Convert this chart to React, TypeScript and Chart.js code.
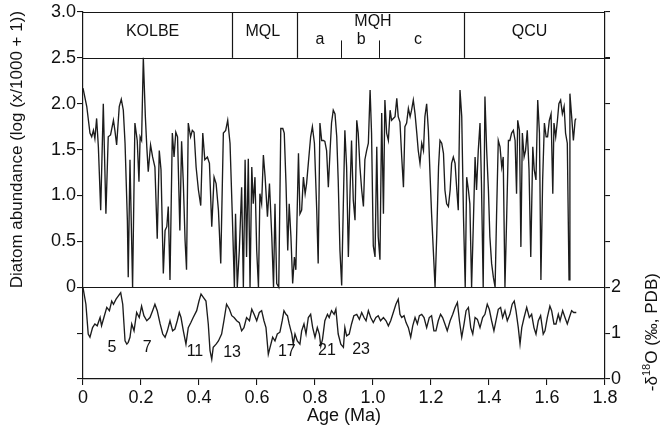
import React, { useEffect, useRef } from "react";
import { Chart, registerables } from "chart.js";

Chart.register(...registerables);

const FONT = '"Liberation Sans", Arial, Helvetica, sans-serif';
const INK = "#161616";

// Diatom abundance, [age (Ma), log(x/1000 + 1)]
const diatomAbundance: [number, number][] = [
  [0.000,2.17],[0.013,1.97],[0.024,1.68],[0.030,1.64],[0.036,1.71],[0.041,1.62],[0.047,1.84],[0.053,1.53],[0.061,0.84],[0.070,2.00],
  [0.079,0.80],[0.087,1.64],[0.095,1.66],[0.105,1.82],[0.110,1.71],[0.116,1.55],[0.125,1.97],[0.132,2.05],[0.139,1.93],[0.145,1.57],
  [0.153,0.73],[0.156,0.11],[0.162,1.39],[0.171,0.00],[0.179,1.79],[0.187,1.60],[0.193,1.15],[0.197,1.64],[0.202,1.60],[0.208,2.50],
  [0.215,1.86],[0.220,1.53],[0.225,1.26],[0.233,1.55],[0.240,1.42],[0.248,1.31],[0.256,0.53],[0.263,1.49],[0.269,1.28],[0.277,0.15],
  [0.283,0.62],[0.289,0.66],[0.294,0.88],[0.300,0.08],[0.308,1.68],[0.314,1.42],[0.320,1.69],[0.326,1.64],[0.334,0.62],[0.340,1.59],
  [0.346,1.13],[0.352,0.51],[0.357,0.19],[0.363,1.79],[0.371,1.64],[0.377,1.71],[0.383,1.69],[0.390,1.31],[0.398,1.06],[0.406,0.89],
  [0.413,1.68],[0.420,1.39],[0.429,1.42],[0.436,1.35],[0.444,0.66],[0.452,1.20],[0.459,1.13],[0.467,0.84],[0.475,0.26],[0.484,1.68],
  [0.492,1.71],[0.499,1.82],[0.507,1.57],[0.515,0.77],[0.522,0.00],[0.526,0.80],[0.532,0.00],[0.539,0.40],[0.547,1.09],[0.553,0.00],
  [0.559,1.39],[0.564,0.33],[0.570,1.40],[0.576,0.00],[0.582,1.31],[0.587,0.91],[0.593,1.20],[0.599,0.40],[0.605,0.00],[0.610,1.02],
  [0.616,0.91],[0.622,1.44],[0.628,1.20],[0.636,0.77],[0.643,1.13],[0.651,0.55],[0.657,0.00],[0.662,0.91],[0.668,0.04],[0.675,0.00],
  [0.682,1.73],[0.689,1.73],[0.694,1.68],[0.700,1.13],[0.706,0.40],[0.711,0.91],[0.717,0.55],[0.723,0.04],[0.729,0.33],[0.734,0.19],
  [0.743,1.46],[0.748,0.80],[0.754,0.84],[0.760,1.20],[0.766,1.02],[0.771,1.13],[0.777,1.35],[0.785,1.64],[0.791,1.75],[0.798,1.57],
  [0.806,0.84],[0.811,0.26],[0.817,1.79],[0.823,1.60],[0.829,1.60],[0.834,1.59],[0.840,1.49],[0.846,1.09],[0.852,1.49],[0.857,1.79],
  [0.863,1.93],[0.869,1.89],[0.875,1.64],[0.880,1.17],[0.886,0.40],[0.892,0.02],[0.898,0.95],[0.903,1.71],[0.909,1.31],[0.915,0.33],
  [0.921,1.06],[0.926,1.60],[0.932,0.95],[0.938,0.73],[0.944,1.82],[0.949,1.68],[0.955,1.31],[0.961,1.06],[0.967,0.88],[0.972,1.39],
  [0.978,1.49],[0.984,1.57],[0.990,2.15],[0.995,1.68],[1.001,0.45],[1.007,0.33],[1.013,1.53],[1.018,0.55],[1.024,0.30],[1.030,1.90],
  [1.036,0.80],[1.041,2.04],[1.047,1.68],[1.053,1.60],[1.059,1.93],[1.064,1.82],[1.070,1.84],[1.076,1.86],[1.082,2.06],[1.087,1.86],
  [1.093,1.80],[1.099,1.42],[1.105,1.09],[1.110,1.75],[1.116,1.79],[1.122,1.95],[1.128,1.86],[1.133,1.93],[1.139,2.04],[1.145,1.89],
  [1.151,1.68],[1.156,1.49],[1.162,1.35],[1.168,1.57],[1.174,1.49],[1.179,1.86],[1.185,2.00],[1.191,1.71],[1.197,1.20],[1.202,0.80],
  [1.208,0.40],[1.214,0.00],[1.220,0.59],[1.226,1.31],[1.231,1.60],[1.237,1.57],[1.243,1.46],[1.248,1.06],[1.254,0.91],[1.260,0.88],
  [1.266,1.06],[1.271,1.35],[1.277,1.42],[1.283,1.35],[1.289,1.06],[1.294,0.84],[1.300,2.15],[1.306,1.86],[1.312,0.77],[1.318,0.00],
  [1.323,1.20],[1.329,1.06],[1.334,0.91],[1.340,0.00],[1.346,0.69],[1.352,1.42],[1.357,1.06],[1.363,1.49],[1.369,1.79],[1.374,1.13],
  [1.380,0.00],[1.386,2.08],[1.392,1.49],[1.398,1.06],[1.403,0.55],[1.409,0.26],[1.415,0.11],[1.421,0.00],[1.426,0.77],[1.432,1.60],
  [1.438,1.53],[1.444,1.31],[1.449,1.42],[1.455,0.00],[1.461,0.77],[1.467,1.60],[1.472,1.60],[1.478,1.68],[1.484,1.71],[1.490,1.60],
  [1.495,1.02],[1.499,1.82],[1.505,1.71],[1.510,0.44],[1.515,1.68],[1.521,1.42],[1.526,1.49],[1.532,1.71],[1.538,1.28],[1.544,0.33],
  [1.551,1.53],[1.556,1.28],[1.562,1.17],[1.568,2.04],[1.574,1.68],[1.579,0.08],[1.585,1.17],[1.591,1.79],[1.597,1.64],[1.602,1.64],
  [1.608,1.82],[1.614,1.89],[1.620,1.02],[1.624,1.79],[1.630,1.64],[1.636,1.82],[1.641,2.00],[1.647,2.04],[1.653,1.89],[1.659,1.97],
  [1.664,1.68],[1.670,1.57],[1.676,0.08],[1.679,2.11],[1.685,1.86],[1.691,1.60],[1.697,1.82],[1.700,1.84],
];

// -δ18O (‰, PDB), [age (Ma), value]
const oxygenIsotope: [number, number][] = [
  [0.000,1.99],[0.010,1.63],[0.018,0.98],[0.024,0.91],[0.033,1.12],[0.041,1.20],[0.049,1.16],[0.059,1.34],[0.064,1.16],[0.072,1.34],
  [0.082,1.56],[0.091,1.49],[0.099,1.70],[0.105,1.63],[0.114,1.74],[0.122,1.81],[0.130,1.88],[0.137,1.63],[0.145,0.83],[0.151,0.76],
  [0.156,0.80],[0.162,0.91],[0.168,1.20],[0.176,1.05],[0.185,1.45],[0.194,1.34],[0.202,1.59],[0.210,1.38],[0.220,1.27],[0.231,1.34],
  [0.240,1.49],[0.248,1.63],[0.256,1.49],[0.266,1.20],[0.275,0.98],[0.283,0.91],[0.291,1.05],[0.300,1.27],[0.309,1.05],[0.317,1.09],
  [0.325,1.27],[0.332,1.45],[0.338,1.34],[0.346,1.05],[0.355,0.76],[0.363,1.12],[0.372,1.23],[0.380,1.34],[0.392,1.49],[0.400,1.70],
  [0.407,1.85],[0.415,1.78],[0.424,1.70],[0.432,1.20],[0.438,0.62],[0.444,0.43],[0.449,0.69],[0.459,0.76],[0.467,0.83],[0.478,0.98],
  [0.486,1.27],[0.495,1.63],[0.505,1.52],[0.513,1.38],[0.521,1.34],[0.530,1.27],[0.539,1.23],[0.547,1.05],[0.555,1.12],[0.564,1.34],
  [0.574,1.27],[0.582,1.52],[0.590,1.41],[0.599,1.27],[0.608,1.45],[0.616,1.49],[0.624,1.27],[0.631,1.12],[0.639,0.54],[0.645,0.69],
  [0.654,0.91],[0.662,0.83],[0.670,0.98],[0.679,1.02],[0.687,1.27],[0.693,1.49],[0.700,1.41],[0.705,1.38],[0.711,1.20],[0.720,0.98],
  [0.725,0.76],[0.731,0.98],[0.739,0.83],[0.748,0.76],[0.754,1.05],[0.762,1.20],[0.769,0.98],[0.777,1.34],[0.785,1.41],[0.792,1.12],
  [0.800,0.91],[0.808,1.12],[0.815,0.98],[0.820,0.72],[0.826,0.87],[0.834,1.27],[0.843,1.41],[0.849,1.34],[0.857,1.49],[0.866,1.41],
  [0.872,1.52],[0.880,0.98],[0.889,0.76],[0.898,0.69],[0.903,1.12],[0.909,0.94],[0.918,0.98],[0.926,1.20],[0.934,1.38],[0.944,1.41],
  [0.953,1.30],[0.961,1.45],[0.969,1.34],[0.976,1.27],[0.984,1.49],[0.992,1.34],[1.001,1.23],[1.010,1.34],[1.018,1.38],[1.026,1.27],
  [1.036,1.34],[1.045,1.27],[1.053,1.16],[1.061,1.27],[1.070,1.45],[1.079,1.63],[1.087,1.74],[1.093,1.41],[1.099,1.34],[1.107,1.38],
  [1.114,1.23],[1.122,1.12],[1.130,0.91],[1.137,1.16],[1.145,1.34],[1.153,1.20],[1.160,1.38],[1.168,1.41],[1.176,1.34],[1.185,1.12],
  [1.194,1.34],[1.202,1.38],[1.210,1.05],[1.217,1.05],[1.225,1.27],[1.233,1.41],[1.240,1.34],[1.248,1.20],[1.256,1.05],[1.266,1.27],
  [1.275,1.41],[1.283,1.56],[1.291,1.67],[1.298,1.27],[1.306,0.91],[1.314,1.20],[1.321,1.49],[1.329,1.56],[1.337,1.12],[1.344,0.98],
  [1.352,1.34],[1.360,1.30],[1.369,1.12],[1.378,1.34],[1.386,1.41],[1.394,1.63],[1.401,1.52],[1.409,1.27],[1.417,1.05],[1.424,1.27],
  [1.432,1.52],[1.440,1.56],[1.447,1.34],[1.455,1.49],[1.463,1.27],[1.472,1.41],[1.480,1.63],[1.487,1.70],[1.493,1.49],[1.501,1.12],
  [1.507,0.76],[1.513,1.12],[1.521,1.34],[1.530,1.56],[1.539,1.34],[1.547,1.41],[1.555,1.12],[1.562,0.98],[1.570,1.27],[1.578,1.38],
  [1.587,0.98],[1.593,1.05],[1.601,1.34],[1.610,1.59],[1.616,1.49],[1.624,1.20],[1.631,1.20],[1.639,1.41],[1.645,1.27],[1.654,1.49],
  [1.662,1.34],[1.670,1.20],[1.677,1.34],[1.685,1.49],[1.692,1.45],[1.701,1.45],
];

// Zones (top band)
const zoneNames = ["KOLBE", "MQL", "MQH", "QCU"];
const zoneLabelAges = [0.24, 0.62, 1.0, 1.54];
const zoneLabelLevels = [2.79, 2.79, 2.89, 2.79];
const zoneBoundaries = [0.514, 0.737, 1.314];
const subzoneNames = ["a", "b", "c"];
const subzoneLabelAges = [0.817, 0.959, 1.155];
const subzoneLabelLevel = 2.70;
const subzoneBoundaries = [0.89, 1.021];
const subzoneTickTop = 2.69;
const bandBottom = 2.5;
const bandTop = 3.0;

// Marine isotope stage labels (on δ18O axis)
const stageNames = ["5", "7", "11", "13", "17", "21", "23"];
const stageAges = [0.100, 0.221, 0.386, 0.514, 0.703, 0.841, 0.959];
const stageLevels = [0.68, 0.68, 0.60, 0.57, 0.60, 0.61, 0.65];

// Axes
const ageTicksStep = 0.2;
const diatomTickStep = 0.5;
const isotopeTickStep = 1;
const isotopeLabelMax = 2;

const overlayPlugin = {
  id: "overlay",
  beforeDatasetsDraw(chart: any) {
    const ctx = chart.ctx;
    const { left, right } = chart.chartArea;
    const x = chart.scales.x;
    const y = chart.scales.y;
    ctx.save();
    ctx.strokeStyle = INK;
    ctx.lineWidth = 1.2;
    [bandTop, bandBottom, 0].forEach((v) => {
      const py = Math.round(y.getPixelForValue(v)) + 0.5;
      ctx.beginPath();
      ctx.moveTo(left, py);
      ctx.lineTo(right + (v === bandBottom ? 5 : 0), py);
      ctx.stroke();
    });
    const yb = y.getPixelForValue(bandBottom);
    const yt = y.getPixelForValue(bandTop);
    zoneBoundaries.forEach((b) => {
      const px = Math.round(x.getPixelForValue(b)) + 0.5;
      ctx.beginPath();
      ctx.moveTo(px, yb);
      ctx.lineTo(px, yt);
      ctx.stroke();
    });
    ctx.lineWidth = 1;
    subzoneBoundaries.forEach((b) => {
      const px = Math.round(x.getPixelForValue(b)) + 0.5;
      ctx.beginPath();
      ctx.moveTo(px, yb);
      ctx.lineTo(px, y.getPixelForValue(subzoneTickTop));
      ctx.stroke();
    });
    ctx.restore();
  },
  afterDraw(chart: any) {
    const ctx = chart.ctx;
    const x = chart.scales.x;
    const y = chart.scales.y;
    const y2 = chart.scales.y2;
    const { left, right } = chart.chartArea;
    ctx.save();
    ctx.fillStyle = "#111";
    ctx.textAlign = "center";
    ctx.textBaseline = "middle";
    ctx.font = `16px ${FONT}`;
    zoneNames.forEach((n, i) => {
      ctx.fillText(n, x.getPixelForValue(zoneLabelAges[i]), y.getPixelForValue(zoneLabelLevels[i]));
    });
    subzoneNames.forEach((n, i) => {
      ctx.fillText(n, x.getPixelForValue(subzoneLabelAges[i]), y.getPixelForValue(subzoneLabelLevel));
    });
    ctx.font = `16px ${FONT}`;
    stageNames.forEach((n, i) => {
      ctx.fillText(n, x.getPixelForValue(stageAges[i]), y2.getPixelForValue(stageLevels[i]));
    });

    // x title
    ctx.font = `18px ${FONT}`;
    ctx.fillText("Age (Ma)", (left + right) / 2, 416);

    // left title
    ctx.font = `17px ${FONT}`;
    ctx.save();
    ctx.translate(17, y.getPixelForValue(1.5));
    ctx.rotate(-Math.PI / 2);
    ctx.fillText("Diatom abundance (log (x/1000 + 1))", 0, 0);
    ctx.restore();

    // right title with superscript
    ctx.save();
    ctx.translate(651, y2.getPixelForValue(1) - 1);
    ctx.rotate(-Math.PI / 2);
    ctx.textAlign = "left";
    ctx.textBaseline = "alphabetic";
    const big = `17px ${FONT}`;
    const small = `11px ${FONT}`;
    const parts: [string, string, number][] = [
      ["-δ", big, 0],
      ["18", small, -7],
      ["O (‰, PDB)", big, 0],
    ];
    let total = 0;
    parts.forEach(([t, f]) => {
      ctx.font = f;
      total += ctx.measureText(t).width;
    });
    let cx = -total / 2;
    parts.forEach(([t, f, dy]) => {
      ctx.font = f;
      ctx.fillText(t, cx, 6 + dy);
      cx += ctx.measureText(t).width;
    });
    ctx.restore();
    ctx.restore();
  },
};

export default function App() {
  const canvasRef = useRef<HTMLCanvasElement | null>(null);

  useEffect(() => {
    const canvas = canvasRef.current;
    if (!canvas) return;
    Chart.defaults.font.family = FONT;
    Chart.defaults.color = "#111";
    const tickFont = { family: FONT, size: 18 };
    const gridCommon = {
      drawOnChartArea: false,
      drawTicks: true,
      tickLength: 6,
      color: INK,
      lineWidth: 1.1,
    };
    const borderCommon = { display: true, color: INK, width: 1.2 };
    const chart = new Chart(canvas, {
      type: "line",
      data: {
        datasets: [
          {
            label: "Diatom abundance",
            data: diatomAbundance.map(([a, v]) => ({ x: a, y: v })),
            yAxisID: "y",
            borderColor: "#1c1c1c",
            borderWidth: 1.35,
            pointRadius: 0,
            tension: 0,
            fill: false,
          },
          {
            label: "-δ18O",
            data: oxygenIsotope.map(([a, v]) => ({ x: a, y: v })),
            yAxisID: "y2",
            borderColor: "#1c1c1c",
            borderWidth: 1.35,
            pointRadius: 0,
            tension: 0,
            fill: false,
          },
        ],
      },
      options: {
        responsive: false,
        animation: false,
        devicePixelRatio: 1,
        layout: { padding: { top: 12, left: 0, right: 0, bottom: 0 } },
        plugins: {
          legend: { display: false },
          tooltip: { enabled: false },
          title: { display: false },
        },
        scales: {
          x: {
            type: "linear",
            min: 0,
            max: 1.8,
            ticks: {
              stepSize: ageTicksStep,
              autoSkip: false,
              maxRotation: 0,
              padding: 2,
              font: tickFont,
              color: "#111",
              callback: (v: any) => (Math.abs(v) < 1e-9 ? "0" : Number(v).toFixed(1)),
            },
            grid: gridCommon,
            border: borderCommon,
            afterFit: (s: any) => {
              s.height = 55;
            },
          },
          y: {
            position: "left",
            min: -1,
            max: 3,
            ticks: {
              stepSize: diatomTickStep,
              autoSkip: false,
              padding: 1,
              font: tickFont,
              color: "#111",
              callback: (v: any) => {
                const n = Number(v);
                if (n < -1e-9) return "";
                if (Math.abs(n) < 1e-9) return "0";
                return n.toFixed(1);
              },
            },
            grid: gridCommon,
            border: borderCommon,
            afterFit: (s: any) => {
              s.width = 83;
            },
          },
          y2: {
            position: "right",
            min: 0,
            max: 8,
            ticks: {
              stepSize: isotopeTickStep,
              autoSkip: false,
              padding: 1,
              font: tickFont,
              color: "#111",
              callback: (v: any) => (Number(v) <= isotopeLabelMax ? String(Math.round(Number(v))) : ""),
            },
            grid: { ...gridCommon, tickLength: 5 },
            border: borderCommon,
            afterFit: (s: any) => {
              s.width = 56;
            },
          },
        },
      },
      plugins: [overlayPlugin],
    } as any);
    return () => {
      chart.destroy();
    };
  }, []);

  return (
    <div style={{ position: "fixed", left: 0, top: 0, width: 661, height: 434, background: "#fff" }}>
      <canvas ref={canvasRef} width={661} height={434} style={{ width: 661, height: 434, display: "block" }} />
    </div>
  );
}
